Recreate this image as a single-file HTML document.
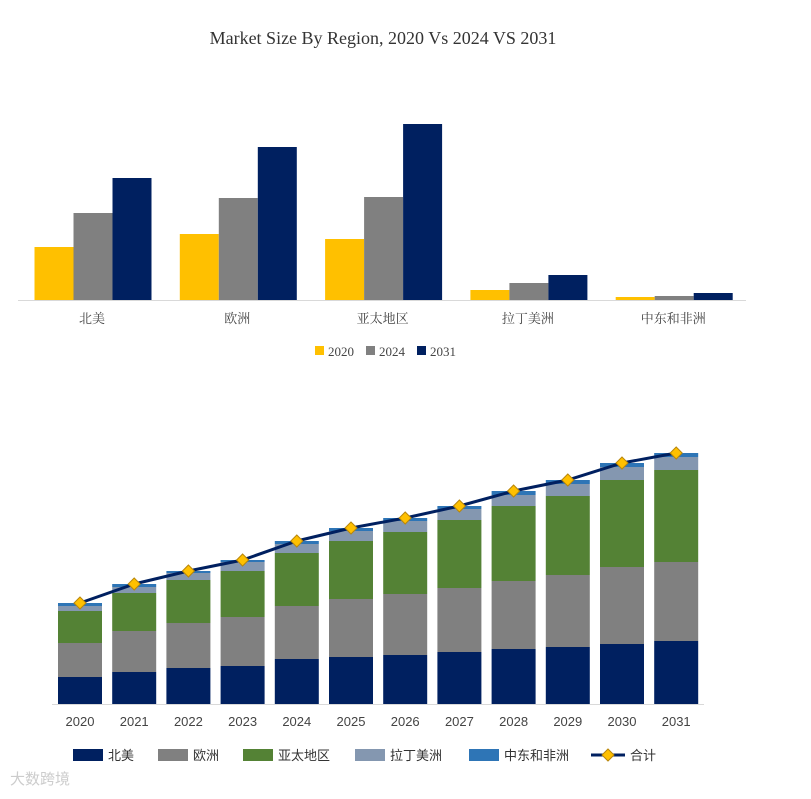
<!DOCTYPE html>
<html><head><meta charset="utf-8">
<style>
body{margin:0;background:#fff;width:811px;height:794px;overflow:hidden;font-family:"Liberation Sans","Noto Sans CJK SC",sans-serif;}
svg text{font-family:"Liberation Serif","Noto Serif CJK SC",serif;}
.sans{font-family:"Liberation Sans","Noto Sans CJK SC",sans-serif;}
</style></head><body>
<svg id="c" width="811" height="794">
<text x="383" y="44" text-anchor="middle" font-size="18" fill="#333">Market Size By Region, 2020 Vs 2024 VS 2031</text>
<text x="10" y="784" font-size="15" fill="#ccc" class="sans">大数跨境</text>
</svg>
<script>
const regions=["北美","欧洲","亚太地区","拉丁美洲","中东和非洲"];
const years3=["2020","2024","2031"];
const v2020=[53,66,61,10,3];
const v2024=[87,102,103,17,4];
const v2031=[122,153,176,25,7];
const years=["2020","2021","2022","2023","2024","2025","2026","2027","2028","2029","2030","2031"];
const sNA=[27,32,36,38,45,47,49,52,55,57,60,63];
const sEU=[34,41,45,49,53,58,61,64,68,72,77,79];
const sAP=[32,38,43,46,53,58,62,68,75,79,87,92];
const sLA=[5,6,7,9,9,10,11,11,11,12,13,13];
const sME=[3,3,2,2,3,3,3,3,4,4,4,4];
const stackNames=["北美","欧洲","亚太地区","拉丁美洲","中东和非洲"];
const NS="http://www.w3.org/2000/svg";
const svg=document.getElementById("c");
function mk(t,a,txt){const e=document.createElementNS(NS,t);for(const k in a)e.setAttribute(k,a[k]);if(txt!=null)e.textContent=txt;svg.appendChild(e);return e;}
// top chart
const yTop=v=>300-v;
const gx=i=>92+i*145.3;
const topCols=["#FFC000","#808080","#002060"];
const topSeries=[v2020,v2024,v2031];
topSeries.forEach((s,k)=>s.forEach((v,i)=>{
 const r=mk("rect",{x:gx(i)-57.5+k*39,y:yTop(v),width:39,height:300-yTop(v),fill:topCols[k]});
 
 
}));
let ax=mk("line",{x1:18,x2:746,y1:300.5,y2:300.5,stroke:"#d9d9d9"});


regions.forEach((r,i)=>{const t=mk("text",{x:gx(i),y:323,"text-anchor":"middle","font-size":13,fill:"#444"},r);
 
 });
years3.forEach((y,k)=>{const lx=315+k*51;
 const r=mk("rect",{x:lx,y:346,width:9,height:9,fill:topCols[k]});
 
 
 const t=mk("text",{x:lx+13,y:356,"font-size":13,fill:"#444"},y);
 
 });
// bottom chart
const yB=v=>704-v;
const bx=i=>80+i*54.2;
const stacks=[sNA,sEU,sAP,sLA,sME];
const sc=["#002060","#808080","#548235","#8497B0","#2E75B6"];
const totals=years.map((_,i)=>stacks.reduce((a,s)=>a+s[i],0));
years.forEach((y,i)=>{let base=0;stacks.forEach((s,k)=>{
 const r=mk("rect",{x:bx(i)-22,y:yB(base+s[i]),width:44,height:s[i],fill:sc[k]});
 
 
 base+=s[i];});
 const t=mk("text",{x:bx(i),y:726,"text-anchor":"middle","font-size":13,fill:"#444",class:"sans"},y);
 
 });
ax=mk("line",{x1:52,x2:704,y1:704.5,y2:704.5,stroke:"#d9d9d9"});


const ln=mk("polyline",{points:totals.map((t,i)=>bx(i)+","+yB(t)).join(" "),fill:"none",stroke:"#002060","stroke-width":3});


totals.forEach((t,i)=>{const x=bx(i),y=yB(t);
 const d=mk("polygon",{points:`${x},${y-6} ${x+6},${y} ${x},${y+6} ${x-6},${y}`,fill:"#FFC000",stroke:"#B8860B","stroke-width":1});
 
 });
const lgx=[73,158,243,355,469];
stackNames.forEach((n,k)=>{
 const r=mk("rect",{x:lgx[k],y:749,width:30,height:12,fill:sc[k]});
 
 
 const t=mk("text",{x:lgx[k]+35,y:760,"font-size":13,fill:"#333",class:"sans"},n);
 
 });
const ll=mk("line",{x1:591,x2:625,y1:755,y2:755,stroke:"#002060","stroke-width":3});


const lm=mk("polygon",{points:"608,749 614,755 608,761 602,755",fill:"#FFC000",stroke:"#B8860B"});


const lt=mk("text",{x:630,y:760,"font-size":13,fill:"#333",class:"sans"},"合计");


</script>
</body></html>
